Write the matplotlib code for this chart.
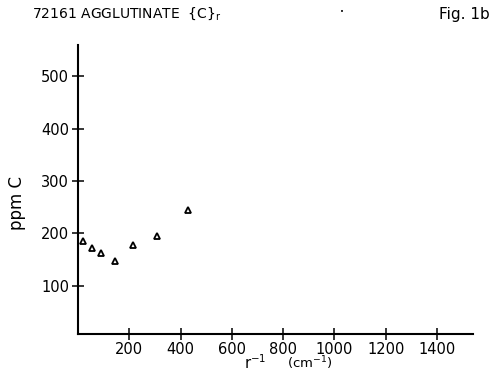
import matplotlib
matplotlib.use("Agg")
import matplotlib.pyplot as plt

# data: r^-1 (cm^-1) vs ppm C
inv_r = [20, 55, 90, 146, 213, 307, 430]
ppm_c = [186, 172, 163, 147, 178, 195, 245]

x_ticks = [200, 400, 600, 800, 1000, 1200, 1400]
y_ticks = [100, 200, 300, 400, 500]

plt.rcParams['font.family'] = ['DejaVu Sans']

fig = plt.figure(figsize=(4.93, 3.79), dpi=100)
W, H = 493.0, 379.0
ax = fig.add_axes([78 / W, (H - 334) / H, (473 - 78) / W, (334 - 45) / H])

ax.plot(inv_r, ppm_c, linestyle='none', marker='^', markersize=5,
        markerfacecolor='white', markeredgecolor='black', markeredgewidth=1.3)

ax.set_xlim(0, 1540)
ax.set_ylim(8, 560)
ax.set_xticks(x_ticks)
ax.set_yticks(y_ticks)
ax.tick_params(direction='inout', length=9, width=1.1, labelsize=10.5,
               color='black', pad=2)
ax.tick_params(axis='x', pad=1)

for s in ['top', 'right']:
    ax.spines[s].set_visible(False)
for s in ['left', 'bottom']:
    ax.spines[s].set_linewidth(1.5)

# labels
fig.text(17 / W, 1 - 203 / H, 'ppm C', rotation=90, ha='center', va='center',
         fontsize=12)
fig.text(255 / W, 1 - 363 / H, r'r$^{-1}$', ha='center', va='center', fontsize=10.5)
fig.text(310 / W, 1 - 363 / H, r'(cm$^{-1}$)', ha='center', va='center', fontsize=9.5)

fig.text(32 / W, 1 - 14 / H, r'72161 AGGLUTINATE  {C}$_\mathrm{r}$', ha='left',
         va='center', fontsize=10)
fig.text(342 / W, 1 - 12 / H, '•', ha='center', va='center', fontsize=5)
fig.text(490 / W, 1 - 14 / H, 'Fig. 1b', ha='right', va='center', fontsize=11)

fig.savefig('out.png', dpi=100, facecolor='white')
